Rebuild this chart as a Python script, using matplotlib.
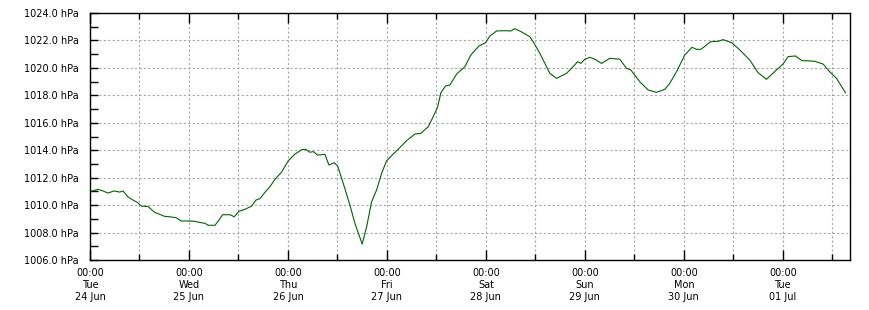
import matplotlib
matplotlib.use("Agg")
import matplotlib.pyplot as plt
from matplotlib.ticker import MultipleLocator, FuncFormatter

# hours since Tue 24 Jun 00:00
hours = [0.0, 1.94, 3.15, 4.36, 5.82, 7.2, 8.0, 9.21, 10.42, 11.47, 12.44, 14.06, 15.68, 16.9,
         18.1, 19.32, 20.92, 22.13, 23.76, 25.38, 26.59, 27.88, 28.68, 30.3, 31.1, 32.17, 33.94,
         34.98, 36.12, 37.58, 39.2, 40.24, 41.21, 42.42, 43.64, 44.85, 46.47, 48.07, 49.7, 51.32,
         52.29, 53.33, 54.13, 55.2, 56.97, 57.94, 59.22, 60.05, 61.41, 63.03, 64.24, 66.01, 67.08,
         68.29, 69.5, 70.72, 71.93, 73.28, 74.74, 76.78, 78.79, 80.24, 82.01, 83.22, 84.29, 85.09,
         86.23, 87.27, 88.9, 90.91, 92.36, 94.3, 95.93, 96.97, 98.59, 100.6, 102.06, 103.03,
         104.65, 106.67, 107.47, 109.09, 111.52, 113.14, 115.56, 117.16, 118.23, 119.03, 120.0,
         121.21, 122.42, 124.05, 126.06, 128.48, 130.1, 131.15, 133.33, 135.35, 137.38, 139.39,
         140.6, 142.22, 144.24, 146.01, 147.08, 148.12, 150.55, 152.32, 153.53, 155.56, 157.16,
         158.79, 160.0, 162.01, 164.05, 166.47, 168.07, 169.28, 171.08, 172.68, 174.13, 175.76,
         177.77, 179.39, 181.02, 183.2]
pressure = [1010.98, 1011.15, 1011.03, 1010.88, 1011.03, 1010.95, 1011.03, 1010.6, 1010.37, 1010.2,
            1009.93, 1009.9, 1009.47, 1009.33, 1009.18, 1009.15, 1009.08, 1008.84, 1008.84, 1008.82,
            1008.74, 1008.67, 1008.53, 1008.53, 1008.84, 1009.3, 1009.3, 1009.15, 1009.55, 1009.69,
            1009.93, 1010.37, 1010.47, 1010.93, 1011.34, 1011.88, 1012.41, 1013.23, 1013.72, 1014.04,
            1014.07, 1013.85, 1013.9, 1013.65, 1013.7, 1012.92, 1013.09, 1012.85, 1011.59, 1010.0,
            1008.67, 1007.16, 1008.42, 1010.25, 1011.1, 1012.32, 1013.23, 1013.65, 1014.07, 1014.7,
            1015.18, 1015.23, 1015.71, 1016.44, 1017.13, 1018.19, 1018.68, 1018.75, 1019.55, 1020.09,
            1020.94, 1021.59, 1021.84, 1022.32, 1022.69, 1022.71, 1022.69, 1022.86, 1022.62, 1022.27,
            1021.91, 1021.06, 1019.6, 1019.24, 1019.6, 1020.09, 1020.45, 1020.33, 1020.63, 1020.77,
            1020.63, 1020.33, 1020.7, 1020.63, 1019.97, 1019.85, 1018.99, 1018.39, 1018.22, 1018.44,
            1018.88, 1019.72, 1020.94, 1021.5, 1021.35, 1021.35, 1021.91, 1021.94, 1022.06, 1021.84,
            1021.43, 1020.94, 1020.57, 1019.65, 1019.17, 1019.85, 1020.28, 1020.82, 1020.87, 1020.52,
            1020.52, 1020.48, 1020.28, 1019.72, 1019.24, 1018.19]

day_names = ["Tue", "Wed", "Thu", "Fri", "Sat", "Sun", "Mon", "Tue"]
day_dates = ["24 Jun", "25 Jun", "26 Jun", "27 Jun", "28 Jun", "29 Jun", "30 Jun", "01 Jul"]

fig = plt.figure(figsize=(8.7, 3.1), dpi=100)
ax = fig.add_axes([90 / 870, 1 - 260 / 310, 760 / 870, 247 / 310])

ax.plot(hours, pressure, color="#006400", linewidth=0.8)

ax.set_xlim(0, 184.3)
ax.set_ylim(1006, 1024)

ax.set_xticks([24 * i for i in range(len(day_names))])
ax.set_xticklabels([f"00:00\n{n}\n{d}" for n, d in zip(day_names, day_dates)])
ax.xaxis.set_minor_locator(MultipleLocator(12))
ax.yaxis.set_major_locator(MultipleLocator(2))
ax.yaxis.set_minor_locator(MultipleLocator(1))
ax.yaxis.set_major_formatter(FuncFormatter(lambda v, p: f"{v:.1f} hPa"))

ax.grid(True, which="major", axis="y", color="#a8a8a8", linestyle=(0, (2, 2)), linewidth=0.8)
ax.grid(True, which="both", axis="x", color="#a8a8a8", linestyle=(0, (2, 2)), linewidth=0.8)
ax.set_axisbelow(True)

ax.tick_params(axis="x", which="major", direction="in", length=7, width=1, top=True,
               labelsize=7, pad=6)
ax.tick_params(axis="x", which="minor", direction="in", length=4, width=1, top=True)
ax.tick_params(axis="y", which="both", direction="in", length=6, width=1, right=False,
               labelsize=7, pad=8)

for s in ax.spines.values():
    s.set_linewidth(1.0)
    s.set_color("black")

fig.savefig("out.png", dpi=100)
